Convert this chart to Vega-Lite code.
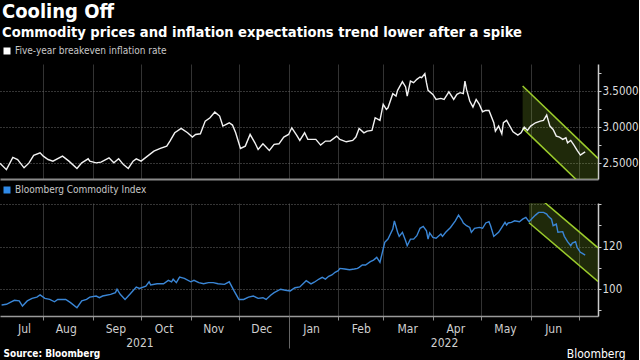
{
  "$schema": "https://vega.github.io/schema/vega-lite/v6.json",
  "background": "#000000",
  "padding": {"left": 0, "top": 2, "right": 0, "bottom": 1},
  "title": {
    "text": "Cooling Off",
    "subtitle": "Commodity prices and inflation expectations trend lower after a spike",
    "anchor": "start",
    "frame": "bounds",
    "font": "DejaVu Sans Condensed",
    "fontSize": 20,
    "fontWeight": "bold",
    "color": "#ffffff",
    "subtitleFont": "DejaVu Sans Condensed",
    "subtitleFontSize": 14.6,
    "subtitleFontWeight": "bold",
    "subtitleColor": "#ffffff",
    "subtitlePadding": 3,
    "offset": 4,
    "dx": 2
  },
  "config": {
    "view": {"stroke": null},
    "font": "DejaVu Sans Condensed",
    "axis": {"labelFont": "DejaVu Sans Condensed", "titleFont": "DejaVu Sans Condensed", "labelColor": "#d0d0d0", "labelFontSize": 12},
    "legend": {"orient": "top", "symbolType": "square", "symbolSize": 49, "labelFont": "DejaVu Sans Condensed", "labelFontSize": 10, "labelColor": "#c8c8c8", "padding": 2, "offset": 6, "symbolStrokeWidth": 0, "labelOffset": 3}
  },
  "datasets": {
    "be": [
      {"date": "2021-07-05", "v": 2.50}, {"date": "2021-07-09", "v": 2.41}, {"date": "2021-07-13", "v": 2.58}, {"date": "2021-07-16", "v": 2.55},
      {"date": "2021-07-20", "v": 2.435}, {"date": "2021-07-23", "v": 2.50}, {"date": "2021-07-26", "v": 2.607}, {"date": "2021-07-30", "v": 2.643},
      {"date": "2021-08-01", "v": 2.597}, {"date": "2021-08-04", "v": 2.55}, {"date": "2021-08-07", "v": 2.528}, {"date": "2021-08-13", "v": 2.597},
      {"date": "2021-08-17", "v": 2.528}, {"date": "2021-08-22", "v": 2.426}, {"date": "2021-08-25", "v": 2.504}, {"date": "2021-08-29", "v": 2.56},
      {"date": "2021-08-30", "v": 2.528}, {"date": "2021-09-03", "v": 2.504}, {"date": "2021-09-06", "v": 2.514}, {"date": "2021-09-11", "v": 2.574},
      {"date": "2021-09-14", "v": 2.504}, {"date": "2021-09-17", "v": 2.56}, {"date": "2021-09-20", "v": 2.48}, {"date": "2021-09-23", "v": 2.426},
      {"date": "2021-09-26", "v": 2.528}, {"date": "2021-09-28", "v": 2.56}, {"date": "2021-10-01", "v": 2.528}, {"date": "2021-10-05", "v": 2.597},
      {"date": "2021-10-09", "v": 2.667}, {"date": "2021-10-13", "v": 2.704}, {"date": "2021-10-17", "v": 2.736}, {"date": "2021-10-19", "v": 2.806},
      {"date": "2021-10-22", "v": 2.921}, {"date": "2021-10-26", "v": 2.982}, {"date": "2021-10-30", "v": 2.921}, {"date": "2021-11-02", "v": 2.861},
      {"date": "2021-11-04", "v": 2.898}, {"date": "2021-11-07", "v": 2.907}, {"date": "2021-11-10", "v": 3.083}, {"date": "2021-11-13", "v": 3.13},
      {"date": "2021-11-16", "v": 3.208}, {"date": "2021-11-19", "v": 3.153}, {"date": "2021-11-21", "v": 3.014}, {"date": "2021-11-25", "v": 3.06},
      {"date": "2021-11-27", "v": 3.028}, {"date": "2021-11-29", "v": 2.921}, {"date": "2021-12-02", "v": 2.704}, {"date": "2021-12-05", "v": 2.736},
      {"date": "2021-12-08", "v": 2.898}, {"date": "2021-12-11", "v": 2.782}, {"date": "2021-12-13", "v": 2.69}, {"date": "2021-12-16", "v": 2.768},
      {"date": "2021-12-20", "v": 2.676}, {"date": "2021-12-23", "v": 2.76}, {"date": "2021-12-26", "v": 2.768}, {"date": "2021-12-29", "v": 2.861},
      {"date": "2022-01-01", "v": 2.898}, {"date": "2022-01-03", "v": 2.99}, {"date": "2022-01-06", "v": 2.889}, {"date": "2022-01-08", "v": 2.815},
      {"date": "2022-01-11", "v": 2.921}, {"date": "2022-01-13", "v": 2.829}, {"date": "2022-01-18", "v": 2.829}, {"date": "2022-01-21", "v": 2.75},
      {"date": "2022-01-24", "v": 2.806}, {"date": "2022-01-27", "v": 2.806}, {"date": "2022-01-31", "v": 2.875}, {"date": "2022-02-02", "v": 2.829},
      {"date": "2022-02-06", "v": 2.796}, {"date": "2022-02-10", "v": 2.815}, {"date": "2022-02-12", "v": 2.861}, {"date": "2022-02-14", "v": 2.982},
      {"date": "2022-02-17", "v": 2.921}, {"date": "2022-02-19", "v": 2.944}, {"date": "2022-02-22", "v": 2.954}, {"date": "2022-02-24", "v": 3.13},
      {"date": "2022-02-27", "v": 3.093}, {"date": "2022-03-01", "v": 3.315}, {"date": "2022-03-03", "v": 3.245}, {"date": "2022-03-04", "v": 3.268},
      {"date": "2022-03-07", "v": 3.463}, {"date": "2022-03-09", "v": 3.43}, {"date": "2022-03-10", "v": 3.51}, {"date": "2022-03-13", "v": 3.63},
      {"date": "2022-03-15", "v": 3.556}, {"date": "2022-03-16", "v": 3.43}, {"date": "2022-03-18", "v": 3.639}, {"date": "2022-03-20", "v": 3.616},
      {"date": "2022-03-22", "v": 3.662}, {"date": "2022-03-24", "v": 3.694}, {"date": "2022-03-25", "v": 3.685}, {"date": "2022-03-27", "v": 3.74},
      {"date": "2022-03-28", "v": 3.616}, {"date": "2022-03-29", "v": 3.51}, {"date": "2022-04-01", "v": 3.454}, {"date": "2022-04-03", "v": 3.384},
      {"date": "2022-04-06", "v": 3.398}, {"date": "2022-04-08", "v": 3.384}, {"date": "2022-04-10", "v": 3.454}, {"date": "2022-04-11", "v": 3.49},
      {"date": "2022-04-14", "v": 3.384}, {"date": "2022-04-16", "v": 3.454}, {"date": "2022-04-18", "v": 3.477}, {"date": "2022-04-20", "v": 3.463},
      {"date": "2022-04-21", "v": 3.639}, {"date": "2022-04-22", "v": 3.523}, {"date": "2022-04-24", "v": 3.361}, {"date": "2022-04-26", "v": 3.278},
      {"date": "2022-04-28", "v": 3.384}, {"date": "2022-04-30", "v": 3.315}, {"date": "2022-05-02", "v": 3.213}, {"date": "2022-05-04", "v": 3.231},
      {"date": "2022-05-06", "v": 3.231}, {"date": "2022-05-09", "v": 3.06}, {"date": "2022-05-10", "v": 2.944}, {"date": "2022-05-12", "v": 3.014},
      {"date": "2022-05-14", "v": 2.907}, {"date": "2022-05-15", "v": 3.06}, {"date": "2022-05-17", "v": 3.093}, {"date": "2022-05-19", "v": 3.014},
      {"date": "2022-05-21", "v": 2.935}, {"date": "2022-05-24", "v": 2.889}, {"date": "2022-05-26", "v": 2.921}, {"date": "2022-05-28", "v": 3.0},
      {"date": "2022-05-30", "v": 2.954}, {"date": "2022-06-01", "v": 3.014}, {"date": "2022-06-04", "v": 3.06}, {"date": "2022-06-07", "v": 3.083},
      {"date": "2022-06-09", "v": 3.093}, {"date": "2022-06-11", "v": 3.167}, {"date": "2022-06-13", "v": 3.014}, {"date": "2022-06-15", "v": 2.968},
      {"date": "2022-06-17", "v": 2.875}, {"date": "2022-06-19", "v": 2.861}, {"date": "2022-06-21", "v": 2.829}, {"date": "2022-06-23", "v": 2.852},
      {"date": "2022-06-24", "v": 2.782}, {"date": "2022-06-26", "v": 2.815}, {"date": "2022-06-28", "v": 2.75}, {"date": "2022-06-30", "v": 2.676},
      {"date": "2022-07-02", "v": 2.611}, {"date": "2022-07-04", "v": 2.643}, {"date": "2022-07-05", "v": 2.657}
    ],
    "bcom": [
      {"date": "2021-07-06", "v": 92.5}, {"date": "2021-07-09", "v": 92.8}, {"date": "2021-07-12", "v": 94.0}, {"date": "2021-07-14", "v": 94.7},
      {"date": "2021-07-17", "v": 94.4}, {"date": "2021-07-19", "v": 92.0}, {"date": "2021-07-22", "v": 94.4}, {"date": "2021-07-25", "v": 95.6},
      {"date": "2021-07-28", "v": 96.2}, {"date": "2021-07-30", "v": 97.2}, {"date": "2021-08-02", "v": 95.6}, {"date": "2021-08-05", "v": 95.1},
      {"date": "2021-08-08", "v": 94.0}, {"date": "2021-08-10", "v": 95.1}, {"date": "2021-08-15", "v": 95.1}, {"date": "2021-08-18", "v": 93.6},
      {"date": "2021-08-22", "v": 91.2}, {"date": "2021-08-25", "v": 94.4}, {"date": "2021-08-28", "v": 95.1}, {"date": "2021-08-30", "v": 96.2},
      {"date": "2021-09-03", "v": 96.7}, {"date": "2021-09-05", "v": 95.9}, {"date": "2021-09-07", "v": 96.7}, {"date": "2021-09-12", "v": 97.5},
      {"date": "2021-09-15", "v": 98.3}, {"date": "2021-09-16", "v": 99.9}, {"date": "2021-09-18", "v": 97.5}, {"date": "2021-09-21", "v": 95.1},
      {"date": "2021-09-24", "v": 97.5}, {"date": "2021-09-28", "v": 100.9}, {"date": "2021-09-30", "v": 100.3}, {"date": "2021-10-04", "v": 101.4},
      {"date": "2021-10-06", "v": 103.4}, {"date": "2021-10-07", "v": 101.9}, {"date": "2021-10-11", "v": 102.5}, {"date": "2021-10-15", "v": 102.5},
      {"date": "2021-10-18", "v": 104.1}, {"date": "2021-10-20", "v": 103.4}, {"date": "2021-10-21", "v": 104.6}, {"date": "2021-10-23", "v": 103.0},
      {"date": "2021-10-25", "v": 105.6}, {"date": "2021-10-28", "v": 105.0}, {"date": "2021-11-01", "v": 103.4}, {"date": "2021-11-03", "v": 104.1},
      {"date": "2021-11-06", "v": 103.0}, {"date": "2021-11-09", "v": 102.5}, {"date": "2021-11-12", "v": 103.0}, {"date": "2021-11-15", "v": 103.0},
      {"date": "2021-11-18", "v": 102.5}, {"date": "2021-11-22", "v": 102.2}, {"date": "2021-11-25", "v": 103.4}, {"date": "2021-11-28", "v": 99.1},
      {"date": "2021-12-01", "v": 95.1}, {"date": "2021-12-04", "v": 95.1}, {"date": "2021-12-07", "v": 96.2}, {"date": "2021-12-10", "v": 96.7},
      {"date": "2021-12-13", "v": 95.6}, {"date": "2021-12-16", "v": 95.9}, {"date": "2021-12-18", "v": 95.1}, {"date": "2021-12-21", "v": 97.2},
      {"date": "2021-12-23", "v": 98.3}, {"date": "2021-12-27", "v": 99.9}, {"date": "2021-12-30", "v": 99.4}, {"date": "2022-01-02", "v": 99.1},
      {"date": "2022-01-05", "v": 100.6}, {"date": "2022-01-08", "v": 101.0}, {"date": "2022-01-12", "v": 103.9}, {"date": "2022-01-15", "v": 102.4},
      {"date": "2022-01-17", "v": 103.2}, {"date": "2022-01-20", "v": 104.7}, {"date": "2022-01-22", "v": 105.5}, {"date": "2022-01-24", "v": 104.7},
      {"date": "2022-01-26", "v": 106.0}, {"date": "2022-01-28", "v": 106.6}, {"date": "2022-01-30", "v": 107.9}, {"date": "2022-02-01", "v": 108.6},
      {"date": "2022-02-02", "v": 109.7}, {"date": "2022-02-05", "v": 109.4}, {"date": "2022-02-08", "v": 109.1}, {"date": "2022-02-11", "v": 109.4},
      {"date": "2022-02-13", "v": 109.7}, {"date": "2022-02-14", "v": 110.2}, {"date": "2022-02-16", "v": 111.3}, {"date": "2022-02-18", "v": 111.3},
      {"date": "2022-02-21", "v": 112.9}, {"date": "2022-02-23", "v": 113.6}, {"date": "2022-02-25", "v": 114.9}, {"date": "2022-02-27", "v": 112.6},
      {"date": "2022-03-01", "v": 118.8}, {"date": "2022-03-02", "v": 122.0}, {"date": "2022-03-04", "v": 123.5}, {"date": "2022-03-07", "v": 128.2},
      {"date": "2022-03-08", "v": 132.1}, {"date": "2022-03-10", "v": 126.7}, {"date": "2022-03-11", "v": 124.8}, {"date": "2022-03-13", "v": 126.7},
      {"date": "2022-03-15", "v": 122.7}, {"date": "2022-03-16", "v": 120.4}, {"date": "2022-03-18", "v": 123.5}, {"date": "2022-03-20", "v": 123.5},
      {"date": "2022-03-22", "v": 125.1}, {"date": "2022-03-24", "v": 128.6}, {"date": "2022-03-26", "v": 129.5}, {"date": "2022-03-28", "v": 127.4},
      {"date": "2022-03-29", "v": 123.5}, {"date": "2022-03-30", "v": 126.4}, {"date": "2022-04-01", "v": 124.3}, {"date": "2022-04-03", "v": 123.9},
      {"date": "2022-04-06", "v": 125.9}, {"date": "2022-04-07", "v": 124.8}, {"date": "2022-04-09", "v": 126.7}, {"date": "2022-04-12", "v": 129.0},
      {"date": "2022-04-15", "v": 132.1}, {"date": "2022-04-17", "v": 134.8}, {"date": "2022-04-19", "v": 132.6}, {"date": "2022-04-20", "v": 131.1},
      {"date": "2022-04-22", "v": 129.8}, {"date": "2022-04-24", "v": 129.0}, {"date": "2022-04-25", "v": 126.7}, {"date": "2022-04-27", "v": 128.6},
      {"date": "2022-04-30", "v": 129.0}, {"date": "2022-05-02", "v": 128.6}, {"date": "2022-05-04", "v": 131.1}, {"date": "2022-05-06", "v": 131.7},
      {"date": "2022-05-07", "v": 129.8}, {"date": "2022-05-09", "v": 124.8}, {"date": "2022-05-10", "v": 125.4}, {"date": "2022-05-12", "v": 126.7},
      {"date": "2022-05-14", "v": 129.0}, {"date": "2022-05-16", "v": 131.4}, {"date": "2022-05-17", "v": 130.1}, {"date": "2022-05-18", "v": 131.1},
      {"date": "2022-05-20", "v": 131.4}, {"date": "2022-05-22", "v": 132.1}, {"date": "2022-05-25", "v": 131.7}, {"date": "2022-05-27", "v": 132.9},
      {"date": "2022-05-29", "v": 133.7}, {"date": "2022-05-31", "v": 131.7}, {"date": "2022-06-02", "v": 133.3}, {"date": "2022-06-04", "v": 134.8},
      {"date": "2022-06-06", "v": 136.1}, {"date": "2022-06-09", "v": 136.1}, {"date": "2022-06-11", "v": 135.3}, {"date": "2022-06-12", "v": 134.2},
      {"date": "2022-06-14", "v": 132.9}, {"date": "2022-06-15", "v": 129.8}, {"date": "2022-06-17", "v": 130.6}, {"date": "2022-06-18", "v": 126.7},
      {"date": "2022-06-21", "v": 127.0}, {"date": "2022-06-22", "v": 124.8}, {"date": "2022-06-24", "v": 122.3}, {"date": "2022-06-26", "v": 120.4},
      {"date": "2022-06-27", "v": 121.6}, {"date": "2022-06-29", "v": 122.3}, {"date": "2022-06-30", "v": 119.6}, {"date": "2022-07-02", "v": 117.3},
      {"date": "2022-07-03", "v": 116.9}, {"date": "2022-07-05", "v": 116.0}
    ],
    "ch1": [
      {"date": "2022-05-27", "hi": 3.57, "lo": 2.986},
      {"date": "2022-07-13", "hi": 2.566, "lo": 1.982}
    ],
    "ch2": [
      {"date": "2022-05-31", "hi": 147.0, "lo": 131.2},
      {"date": "2022-07-13", "hi": 119.4, "lo": 103.6}
    ]
  },
  "spacing": 4,
  "resolve": {"scale": {"color": "independent", "x": "independent", "y": "independent"}},
  "vconcat": [
    {
      "width": 598,
      "height": 115,
      "resolve": {"axis": {"x": "independent"}},
      "layer": [
        {
          "data": {"name": "ch1"},
          "mark": {"type": "area", "clip": true, "color": "#9acd32", "opacity": 0.2},
          "encoding": {
            "x": {"field": "date", "type": "temporal", "title": null,
              "scale": {"type": "utc", "domain": [{"year": 2021, "month": 7, "date": 5, "utc": true}, {"year": 2022, "month": 7, "date": 13, "utc": true}]},
              "axis": {"orient": "bottom", "tickCount": 30, "values": [
                {"year": 2021, "month": 8, "date": 1, "utc": true}, {"year": 2021, "month": 9, "date": 1, "utc": true}, {"year": 2021, "month": 10, "date": 1, "utc": true},
                {"year": 2021, "month": 11, "date": 1, "utc": true}, {"year": 2021, "month": 12, "date": 1, "utc": true}, {"year": 2022, "month": 1, "date": 1, "utc": true},
                {"year": 2022, "month": 2, "date": 1, "utc": true}, {"year": 2022, "month": 3, "date": 1, "utc": true}, {"year": 2022, "month": 4, "date": 1, "utc": true},
                {"year": 2022, "month": 5, "date": 1, "utc": true}, {"year": 2022, "month": 6, "date": 1, "utc": true}, {"year": 2022, "month": 7, "date": 1, "utc": true}],
                "grid": true, "gridColor": "#333333", "gridWidth": 1, "labels": false, "ticks": false,
                "domain": true, "domainColor": "#8a8a8a", "domainWidth": 2, "title": null}
            },
            "y": {"field": "hi", "type": "quantitative", "title": null,
              "scale": {"domain": [2.28, 3.875], "nice": false, "zero": false},
              "axis": {"orient": "right", "tickCount": 20, "values": [2.5, 2.75, 3.0, 3.25, 3.5, 3.75],
                "labelExpr": "datum.value == 2.5 || datum.value == 3 || datum.value == 3.5 ? format(datum.value, '.4f') : ''",
                "labelOverlap": false,
                "grid": true, "gridDash": [1, 2], "gridColor": "#6a6a6a",
                "gridOpacity": {"condition": {"test": "datum.value == 2.5 || datum.value == 3 || datum.value == 3.5", "value": 1}, "value": 0},
                "tickSize": 3, "tickColor": "#cccccc", "domainColor": "#cccccc", "domainWidth": 1.5,
                "labelColor": "#dddddd", "labelFontSize": 11.5, "labelPadding": 1, "title": null}
            },
            "y2": {"field": "lo"}
          }
        },
        {
          "data": {"name": "ch1"},
          "mark": {"type": "line", "clip": true, "color": "#9ccc2c", "strokeWidth": 1.5},
          "encoding": {
            "x": {"field": "date", "type": "temporal", "axis": null},
            "y": {"field": "hi", "type": "quantitative", "title": null}
          }
        },
        {
          "data": {"name": "ch1"},
          "mark": {"type": "line", "clip": true, "color": "#9ccc2c", "strokeWidth": 1.5},
          "encoding": {
            "x": {"field": "date", "type": "temporal", "axis": null},
            "y": {"field": "lo", "type": "quantitative", "title": null}
          }
        },
        {
          "data": {"name": "be"},
          "mark": {"type": "line", "clip": true, "strokeWidth": 1.4},
          "encoding": {
            "x": {"field": "date", "type": "temporal", "axis": null},
            "y": {"field": "v", "type": "quantitative", "title": null},
            "color": {"datum": "Five-year breakeven inflation rate", "scale": {"range": ["#f2f2f2"]},
              "legend": {"title": null, "encode": {"symbols": {"update": {"fill": {"value": "#ffffff"}, "strokeWidth": {"value": 0}}}}}}
          }
        }
      ]
    },
    {
      "width": 598,
      "height": 113,
      "resolve": {"axis": {"x": "independent"}},
      "layer": [
        {
          "data": {"name": "ch2"},
          "mark": {"type": "area", "clip": true, "color": "#9acd32", "opacity": 0.2},
          "encoding": {
            "x": {"field": "date", "type": "temporal", "title": null,
              "scale": {"type": "utc", "domain": [{"year": 2021, "month": 7, "date": 5, "utc": true}, {"year": 2022, "month": 7, "date": 13, "utc": true}]},
              "axis": {"orient": "bottom", "tickCount": 30, "values": [
                {"year": 2021, "month": 8, "date": 1, "utc": true}, {"year": 2021, "month": 9, "date": 1, "utc": true}, {"year": 2021, "month": 10, "date": 1, "utc": true},
                {"year": 2021, "month": 11, "date": 1, "utc": true}, {"year": 2021, "month": 12, "date": 1, "utc": true}, {"year": 2022, "month": 1, "date": 1, "utc": true},
                {"year": 2022, "month": 2, "date": 1, "utc": true}, {"year": 2022, "month": 3, "date": 1, "utc": true}, {"year": 2022, "month": 4, "date": 1, "utc": true},
                {"year": 2022, "month": 5, "date": 1, "utc": true}, {"year": 2022, "month": 6, "date": 1, "utc": true}, {"year": 2022, "month": 7, "date": 1, "utc": true}],
                "grid": true, "gridColor": "#333333", "gridWidth": 1, "labels": false, "ticks": true, "tickSize": 4, "tickColor": "#8a8a8a",
                "domain": true, "domainColor": "#9a9a9a", "domainWidth": 1.5, "title": null}
            },
            "y": {"field": "hi", "type": "quantitative", "title": null,
              "scale": {"domain": [87.3, 140.5], "nice": false, "zero": false},
              "axis": {"orient": "right", "tickCount": 20, "values": [90, 100, 110, 120, 130, 140],
                "labelExpr": "datum.value == 100 || datum.value == 120 ? format(datum.value, 'd') : ''",
                "labelOverlap": false,
                "grid": true, "gridDash": [1, 2], "gridColor": "#6a6a6a",
                "gridOpacity": {"condition": {"test": "datum.value == 100 || datum.value == 120 || datum.value == 140", "value": 1}, "value": 0},
                "tickSize": 3, "tickColor": "#cccccc", "domainColor": "#cccccc", "domainWidth": 1.5,
                "labelColor": "#dddddd", "labelFontSize": 11.5, "labelPadding": 1, "title": null}
            },
            "y2": {"field": "lo"}
          }
        },
        {
          "data": {"name": "ch2"},
          "mark": {"type": "line", "clip": true, "color": "#9ccc2c", "strokeWidth": 1.5},
          "encoding": {
            "x": {"field": "date", "type": "temporal", "title": null,
              "axis": {"orient": "bottom", "tickCount": 30, "values": [
                {"year": 2021, "month": 7, "date": 20, "utc": true}, {"year": 2021, "month": 8, "date": 15, "utc": true}, {"year": 2021, "month": 9, "date": 15, "utc": true},
                {"year": 2021, "month": 10, "date": 15, "utc": true}, {"year": 2021, "month": 11, "date": 15, "utc": true}, {"year": 2021, "month": 12, "date": 15, "utc": true},
                {"year": 2022, "month": 1, "date": 15, "utc": true}, {"year": 2022, "month": 2, "date": 15, "utc": true}, {"year": 2022, "month": 3, "date": 16, "utc": true},
                {"year": 2022, "month": 4, "date": 15, "utc": true}, {"year": 2022, "month": 5, "date": 16, "utc": true}, {"year": 2022, "month": 6, "date": 15, "utc": true}],
                "format": "%b", "labelAlign": "center", "labelPadding": 7, "labelColor": "#cfcfcf", "labelFontSize": 12,
                "grid": false, "ticks": false, "domain": false, "title": null, "labelOverlap": false}
            },
            "y": {"field": "hi", "type": "quantitative", "title": null}
          }
        },
        {
          "data": {"name": "ch2"},
          "mark": {"type": "line", "clip": true, "color": "#9ccc2c", "strokeWidth": 1.5},
          "encoding": {
            "x": {"field": "date", "type": "temporal",
              "axis": {"orient": "bottom", "values": [{"year": 2021, "month": 9, "date": 30, "utc": true}, {"year": 2022, "month": 4, "date": 8, "utc": true}],
                "format": "%Y", "labelAlign": "center", "labelPadding": 21, "labelColor": "#cfcfcf", "labelFontSize": 12,
                "grid": false, "ticks": false, "domain": false, "labelOverlap": false,
                "title": "Source: Bloomberg", "titleAnchor": "start", "titleAlign": "left", "titleX": 3,
                "titleFontSize": 10, "titleFontWeight": "bold", "titleColor": "#ffffff", "titlePadding": 0}
            },
            "y": {"field": "lo", "type": "quantitative", "title": null}
          }
        },
        {
          "data": {"name": "bcom"},
          "mark": {"type": "line", "clip": true, "strokeWidth": 1.4},
          "encoding": {
            "x": {"field": "date", "type": "temporal",
              "axis": {"orient": "bottom", "values": [{"year": 2022, "month": 1, "date": 1, "utc": true}],
                "labels": false, "grid": false, "domain": false, "ticks": true, "tickSize": 32, "tickColor": "#666666",
                "title": "Bloomberg", "titleAnchor": "end", "titleAlign": "right", "titleX": 625,
                "titleFontSize": 12, "titleFontWeight": "normal", "titleColor": "#ffffff", "titlePadding": 0}
            },
            "y": {"field": "v", "type": "quantitative", "title": null},
            "color": {"datum": "Bloomberg Commodity Index", "scale": {"range": ["#3a86d6"]},
              "legend": {"title": null, "encode": {"symbols": {"update": {"fill": {"value": "#2f8ae8"}, "strokeWidth": {"value": 0}}}}}}
          }
        }
      ]
    }
  ]
}
